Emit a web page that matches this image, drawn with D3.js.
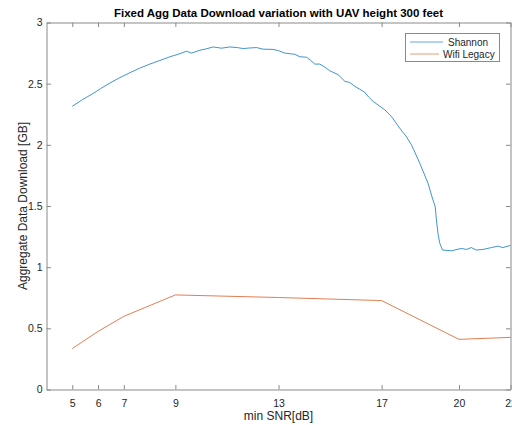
<!DOCTYPE html>
<html>
<head>
<meta charset="utf-8">
<script src="https://cdn.jsdelivr.net/npm/d3@7/dist/d3.min.js"></script>
<style>
  html, body { margin: 0; padding: 0; background: #fff; }
  svg { display: block; font-family: "Liberation Sans", Arial, Helvetica, sans-serif; }
</style>
</head>
<body>
<svg id="chart" width="512" height="425"></svg>
<script>
// Shannon capacity curve (min SNR in dB vs aggregate download in GB)
const snrShannon = [5.0, 5.4, 5.81, 6.1, 6.46, 6.85, 7.24, 7.6, 8.01, 8.4, 8.79, 9.1, 9.43, 9.63,
  9.95, 10.2, 10.47, 10.79, 11.11, 11.4, 11.63, 11.9, 12.15, 12.4, 12.79, 13.0, 13.24, 13.63,
  13.83, 14.09, 14.25, 14.41, 14.6, 14.8, 14.99, 15.31, 15.57, 15.76, 15.96, 16.15, 16.34,
  16.5, 16.67, 16.9, 17.12, 17.38, 17.7, 17.95, 18.16, 18.48, 18.8, 18.99, 19.08, 19.12,
  19.19, 19.25, 19.36, 19.71, 20.09, 20.29, 20.48, 20.67, 20.93, 21.26, 21.51, 21.7, 22.0];
const shannonGB = [2.315, 2.37, 2.42, 2.46, 2.505, 2.55, 2.59, 2.625, 2.66, 2.69, 2.72, 2.74, 2.765, 2.75,
  2.773, 2.785, 2.80, 2.79, 2.80, 2.795, 2.787, 2.792, 2.795, 2.782, 2.78, 2.77, 2.75, 2.74,
  2.72, 2.716, 2.69, 2.66, 2.66, 2.635, 2.605, 2.574, 2.52, 2.51, 2.478, 2.455, 2.43,
  2.39, 2.355, 2.32, 2.287, 2.232, 2.137, 2.07, 2.0, 1.85, 1.686, 1.55, 1.494, 1.40,
  1.27, 1.20, 1.14, 1.134, 1.153, 1.145, 1.16, 1.14, 1.145, 1.16, 1.172, 1.16, 1.178];

// Legacy WiFi rate table
const snrWifi = [5, 6, 7, 9, 13, 17, 20, 22];
const wifiGB = [0.335, 0.475, 0.598, 0.773, 0.752, 0.727, 0.41, 0.426];

const xTicks = [5, 6, 7, 9, 13, 17, 20, 22];
const yTicks = [0, 0.5, 1, 1.5, 2, 2.5, 3];
const seriesNames = ["Shannon", "Wifi Legacy"];
const seriesColors = ["#0072BD", "#D95319"];

const svg = d3.select("#chart");
const plotLeft = 46.5, plotRight = 510.5, plotTop = 22.5, plotBottom = 389.5;
const textColor = "#262626";
const axisColor = "#8a8a8a";

const x = d3.scaleLinear().domain([4, 22]).range([plotLeft, plotRight]);
const y = d3.scaleLinear().domain([0, 3]).range([plotBottom, plotTop]);

const tickLen = 4.5;

function styleAxis(g) {
  g.selectAll(".domain").attr("stroke", axisColor).attr("stroke-width", 1);
  g.selectAll(".tick line").attr("stroke", axisColor).attr("stroke-width", 1);
  g.selectAll(".tick text").attr("fill", textColor).style("font-size", "10.5px")
    .style("font-family", "'Liberation Sans', Arial, sans-serif");
}

// bottom axis
svg.append("g").attr("transform", `translate(0,${plotBottom})`)
  .call(d3.axisBottom(x).tickValues(xTicks).tickFormat(d3.format("d"))
    .tickSizeInner(-tickLen).tickSizeOuter(0).tickPadding(10))
  .call(styleAxis);
// top axis (box)
svg.append("g").attr("transform", `translate(0,${plotTop})`)
  .call(d3.axisTop(x).tickValues(xTicks).tickFormat("")
    .tickSizeInner(-tickLen).tickSizeOuter(0))
  .call(styleAxis);
// left axis
svg.append("g").attr("transform", `translate(${plotLeft},0)`)
  .call(d3.axisLeft(y).tickValues(yTicks).tickFormat(d => d3.format("")(d))
    .tickSizeInner(-tickLen).tickSizeOuter(0).tickPadding(4))
  .call(styleAxis);
// right axis (box)
svg.append("g").attr("transform", `translate(${plotRight},0)`)
  .call(d3.axisRight(y).tickValues(yTicks).tickFormat("")
    .tickSizeInner(-tickLen).tickSizeOuter(0))
  .call(styleAxis);

// series lines
const line = d3.line().x(d => x(d[0])).y(d => y(d[1]));
const shannonPts = snrShannon.map((s, i) => [s, shannonGB[i]]);
const wifiPts = snrWifi.map((s, i) => [s, wifiGB[i]]);

svg.append("path").datum(shannonPts)
  .attr("d", line).attr("fill", "none")
  .attr("stroke", seriesColors[0]).attr("stroke-width", 1).attr("stroke-opacity", 0.75);
svg.append("path").datum(wifiPts)
  .attr("d", line).attr("fill", "none")
  .attr("stroke", seriesColors[1]).attr("stroke-width", 1).attr("stroke-opacity", 0.75);

// title
svg.append("text")
  .attr("x", (plotLeft + plotRight) / 2).attr("y", 17)
  .attr("text-anchor", "middle")
  .attr("fill", "#000")
  .style("font-size", "11.5px").style("font-weight", "bold")
  .text("Fixed Agg Data Download variation with UAV height 300 feet");

// axis labels
svg.append("text")
  .attr("x", (plotLeft + plotRight) / 2).attr("y", 420)
  .attr("text-anchor", "middle").attr("fill", textColor)
  .style("font-size", "12px")
  .text("min SNR[dB]");
svg.append("text")
  .attr("transform", `translate(27,${(plotTop + plotBottom) / 2}) rotate(-90)`)
  .attr("text-anchor", "middle").attr("fill", textColor)
  .style("font-size", "12px")
  .text("Aggregate Data Download [GB]");

// legend
const lg = svg.append("g");
lg.append("rect")
  .attr("x", 405.5).attr("y", 33.5).attr("width", 94).attr("height", 28)
  .attr("fill", "#fff").attr("stroke", axisColor).attr("stroke-width", 1);
const legendLineEnd = [443, 439];
const legendTextX = [448, 443];
seriesNames.forEach((name, i) => {
  const cy = 42 + i * 12;
  lg.append("line")
    .attr("x1", 410).attr("x2", legendLineEnd[i]).attr("y1", cy).attr("y2", cy)
    .attr("stroke", seriesColors[i]).attr("stroke-width", 1).attr("stroke-opacity", 0.6);
  lg.append("text")
    .attr("x", legendTextX[i]).attr("y", cy + 3.5)
    .attr("text-anchor", "start").attr("fill", textColor)
    .style("font-size", "10px")
    .text(name);
});
</script>
</body>
</html>
